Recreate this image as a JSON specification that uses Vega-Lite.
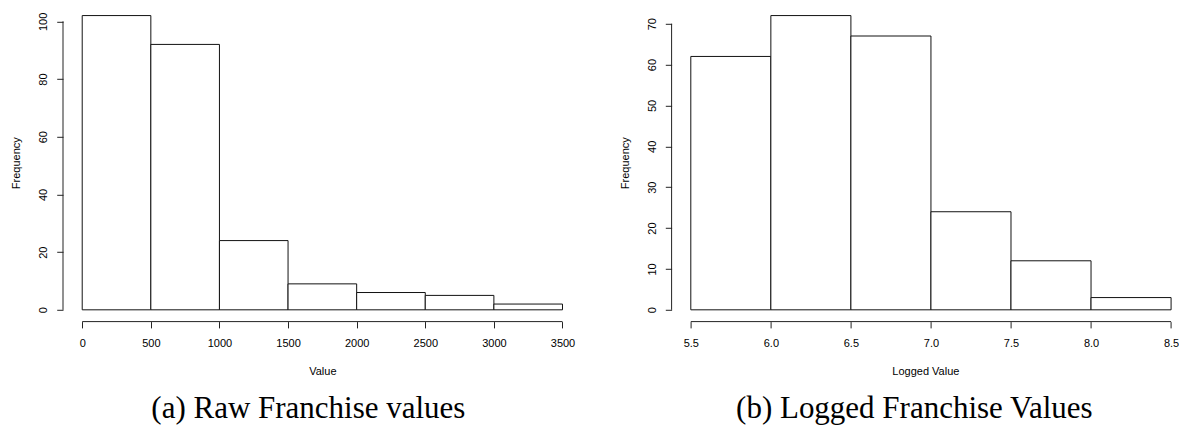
{
  "$schema": "https://vega.github.io/schema/vega-lite/v6.json",
  "padding": {"left": 10, "top": 3.8, "right": 0, "bottom": 0},
  "background": "white",
  "bounds": "flush",
  "spacing": 89.6,
  "datasets": {
    "raw": [
      {"start": 0, "end": 500, "count": 102},
      {"start": 500, "end": 1000, "count": 92},
      {"start": 1000, "end": 1500, "count": 24},
      {"start": 1500, "end": 2000, "count": 9},
      {"start": 2000, "end": 2500, "count": 6},
      {"start": 2500, "end": 3000, "count": 5},
      {"start": 3000, "end": 3500, "count": 2}
    ],
    "logged": [
      {"start": 5.5, "end": 6.0, "count": 62},
      {"start": 6.0, "end": 6.5, "count": 72},
      {"start": 6.5, "end": 7.0, "count": 67},
      {"start": 7.0, "end": 7.5, "count": 24},
      {"start": 7.5, "end": 8.0, "count": 12},
      {"start": 8.0, "end": 8.5, "count": 3}
    ]
  },
  "config": {
    "view": {"stroke": null},
    "axis": {
      "labelFont": "Liberation Sans", "titleFont": "Liberation Sans",
      "labelFontSize": 11, "titleFontSize": 11, "titleFontWeight": "normal",
      "labelColor": "black", "titleColor": "black",
      "tickColor": "#222", "tickSize": 6.3, "domain": false, "grid": false,
      "labelFlush": false, "labelOverlap": false
    },
    "title": {"font": "Liberation Serif", "fontSize": 31, "fontWeight": "normal", "color": "black"}
  },
  "hconcat": [
    {
      "width": 518.7, "height": 317.8,
      "title": {"text": "(a) Raw Franchise values", "orient": "bottom", "offset": 18, "dx": -14},
      "layer": [
        {
          "data": {"name": "raw"},
          "mark": {"type": "rect", "fill": "white", "stroke": "#111", "strokeWidth": 1},
          "encoding": {
            "x": {"field": "start", "type": "quantitative",
                  "scale": {"domain": [-140, 3640], "nice": false, "zero": false},
                  "axis": {"values": [0, 500, 1000, 1500, 2000, 2500, 3000, 3500], "format": "d", "title": "Value",
                           "labelBaseline": "alphabetic", "labelPadding": 18.2, "titlePadding": 17}},
            "x2": {"field": "end"},
            "y": {"field": "count", "type": "quantitative",
                  "scale": {"domain": [-4.08, 106.08], "nice": false, "zero": false},
                  "axis": {"values": [0, 20, 40, 60, 80, 100], "format": "d", "title": "Frequency",
                           "labelAngle": 270, "labelAlign": "center", "labelBaseline": "alphabetic",
                           "labelPadding": 9.8, "titlePadding": 16}},
            "y2": {"datum": 0}
          }
        },
        {
          "data": {"values": [{}]},
          "mark": {"type": "rule", "stroke": "#222", "strokeWidth": 1},
          "encoding": {"x": {"datum": 0}, "x2": {"datum": 3500}, "y": {"datum": -4.08}}
        },
        {
          "data": {"values": [{}]},
          "mark": {"type": "rule", "stroke": "#222", "strokeWidth": 1},
          "encoding": {"x": {"datum": -140}, "y": {"datum": 0}, "y2": {"datum": 100}}
        }
      ]
    },
    {
      "width": 507.5, "height": 317.8,
      "title": {"text": "(b) Logged Franchise Values", "orient": "bottom", "offset": 18, "dx": -11},
      "layer": [
        {
          "data": {"name": "logged"},
          "mark": {"type": "rect", "fill": "white", "stroke": "#111", "strokeWidth": 1},
          "encoding": {
            "x": {"field": "start", "type": "quantitative",
                  "scale": {"domain": [5.38, 8.55], "nice": false, "zero": false},
                  "axis": {"values": [5.5, 6.0, 6.5, 7.0, 7.5, 8.0, 8.5], "format": ".1f", "title": "Logged Value",
                           "labelBaseline": "alphabetic", "labelPadding": 18.2, "titlePadding": 17}},
            "x2": {"field": "end"},
            "y": {"field": "count", "type": "quantitative",
                  "scale": {"domain": [-2.88, 74.88], "nice": false, "zero": false},
                  "axis": {"values": [0, 10, 20, 30, 40, 50, 60, 70], "format": "d", "title": "Frequency",
                           "labelAngle": 270, "labelAlign": "center", "labelBaseline": "alphabetic",
                           "labelPadding": 9.8, "titlePadding": 16}},
            "y2": {"datum": 0}
          }
        },
        {
          "data": {"values": [{}]},
          "mark": {"type": "rule", "stroke": "#222", "strokeWidth": 1},
          "encoding": {"x": {"datum": 5.5}, "x2": {"datum": 8.5}, "y": {"datum": -2.88}}
        },
        {
          "data": {"values": [{}]},
          "mark": {"type": "rule", "stroke": "#222", "strokeWidth": 1},
          "encoding": {"x": {"datum": 5.38}, "y": {"datum": 0}, "y2": {"datum": 70}}
        }
      ]
    }
  ]
}
